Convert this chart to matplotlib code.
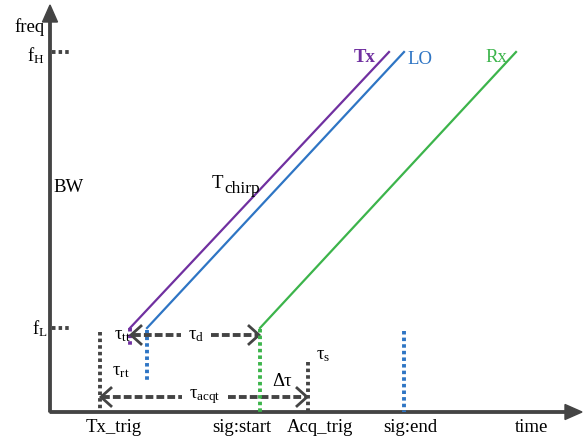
import matplotlib.pyplot as plt

plt.rcParams['font.family'] = ['Liberation Serif', 'DejaVu Serif']
plt.rcParams['mathtext.fontset'] = 'custom'
plt.rcParams['mathtext.rm'] = 'Liberation Serif'
plt.rcParams['mathtext.it'] = 'Liberation Serif:italic'

# diagram units (same as picture pixels, y grows downwards)
x0, y0 = 50, 412          # axis origin
x_end, y_top = 582, 5     # arrow tips
f_low, f_high = 328, 52

# chirps
chirp_names = ['Tx', 'LO', 'Rx']
chirp_start = [130, 147, 260]
chirp_stop = [389, 404, 516]
chirp_colors = ['#7030a0', '#2e75c4', '#3cb44b']
chirp_label_x = [365, 420, 496]
chirp_label_y = [57, 60, 57]

# events on the time axis
event_names = ['Tx_trig', 'sig:start', 'Acq_trig', 'sig:end']
event_t = [100, 260, 308, 404]
event_top = [332, 329, 362, 331]
event_colors = ['#444444', '#3cb44b', '#444444', '#2e75c4']
event_label_x = [114, 242, 320, 410]

gray = '#444444'

fig = plt.figure(figsize=(5.86, 4.41), dpi=100)
ax = fig.add_axes([0, 0, 1, 1])
ax.set_xlim(0, 586)
ax.set_ylim(441, 0)
ax.axis('off')

# axes
ax.arrow(x0, y0, 0, y_top - y0, width=2.4, head_width=15, head_length=17,
         length_includes_head=True, color=gray, zorder=3)
ax.arrow(x0, y0, x_end - x0, 0, width=2.4, head_width=15, head_length=17,
         length_includes_head=True, color=gray, zorder=3)

dot = (0, (0.9, 0.8))
dash = (0, (2.0, 0.8))

# frequency ticks
for f in [f_high, f_low]:
    ax.plot([52, 69], [f, f], ls=dot, lw=2.8, color=gray)

# chirp lines
for t0, t1, c in zip(chirp_start, chirp_stop, chirp_colors):
    ax.plot([t0, t1], [f_low, f_high], color=c, lw=1.6)

ax.text(chirp_label_x[0], chirp_label_y[0], 'Tx', color=chirp_colors[0],
        fontsize=13.5, fontweight='bold', ha='center', va='center')
ax.text(chirp_label_x[1], chirp_label_y[1], 'LO', color=chirp_colors[1],
        fontsize=13.5, ha='center', va='center')
ax.text(chirp_label_x[2], chirp_label_y[2], 'Rx', color=chirp_colors[2],
        fontsize=13.5, ha='center', va='center')

# event markers
for t, top, c in zip(event_t, event_top, event_colors):
    ax.plot([t, t], [top, y0], ls=dot, lw=2.8, color=c, zorder=4)
ax.plot([chirp_start[0]] * 2, [f_low, 347], ls=dot, lw=2.8, color=chirp_colors[0])
ax.plot([chirp_start[1]] * 2, [f_low + 2, 380], ls=dot, lw=2.8, color=chirp_colors[1])


def head(x, y, d):
    ax.plot([x + d * 10, x, x + d * 10], [y - 9, y, y + 9], color=gray, lw=2.0,
            solid_joinstyle='miter')


# tau_d arrow
yd = 335
ax.plot([133, 181], [yd, yd], ls=dash, lw=2.8, color=gray)
ax.plot([211, 258], [yd, yd], ls=dash, lw=2.8, color=gray)
head(131, yd, 1)
head(259, yd, -1)

# tau_acqt arrow
ya = 397
ax.plot([102, 182], [ya, ya], ls=dash, lw=2.8, color=gray)
ax.plot([228, 306], [ya, ya], ls=dash, lw=2.8, color=gray)
head(101, ya, 1)
head(307, ya, -1)

# labels
fs = 13.5
ax.text(30, 27, 'freq', fontsize=fs, ha='center', va='center')
ax.text(36, 56, 'f$_{\\mathrm{H}}$', fontsize=fs, ha='center', va='center')
ax.text(40, 329, 'f$_{\\mathrm{L}}$', fontsize=fs, ha='center', va='center')
ax.text(53, 188, 'BW', fontsize=fs, ha='left', va='center')
ax.text(212, 184, 'T', fontsize=fs, ha='left', va='center')
ax.text(224, 189, 'chirp', fontsize=12.5, ha='left', va='center')
ax.text(122, 335, 'τ$_{\\mathrm{tt}}$', fontsize=fs, ha='center', va='center')
ax.text(121, 372, 'τ$_{\\mathrm{rt}}$', fontsize=fs, ha='center', va='center')
ax.text(196, 335, 'τ$_{\\mathrm{d}}$', fontsize=fs, ha='center', va='center')
ax.text(205, 397, 'τ$_{\\mathrm{acqt}}$', fontsize=fs, ha='center', va='center')
ax.text(282, 382, 'Δτ', fontsize=fs, ha='center', va='center')
ax.text(323, 356, 'τ$_{\\mathrm{s}}$', fontsize=fs, ha='center', va='center')

for name, lx in zip(event_names, event_label_x):
    ax.text(lx, 428, name, fontsize=fs, ha='center', va='center')
ax.text(532, 427, 'time', fontsize=fs, ha='center', va='center')

fig.savefig('out.png', dpi=100)
